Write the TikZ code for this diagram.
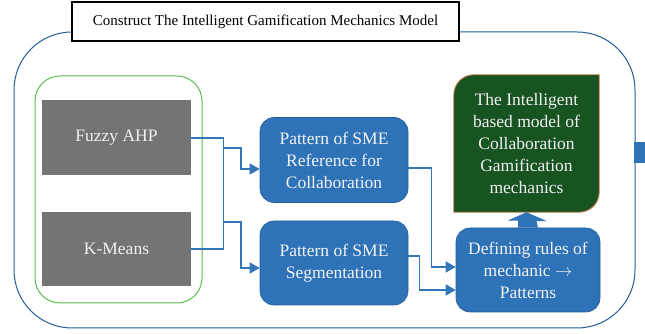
\documentclass[tikz,border=0pt]{standalone}
\usepackage{fontspec}
\setmainfont{Liberation Serif}
\usetikzlibrary{arrows.meta,calc}

\definecolor{boxblue}{RGB}{46,114,184}
\definecolor{edgeblue}{RGB}{38,92,150}
\definecolor{lineblue}{RGB}{52,118,186}
\definecolor{boxgray}{RGB}{116,116,118}
\definecolor{boxgreen}{RGB}{24,84,34}
\definecolor{edgeorange}{RGB}{205,120,70}
\definecolor{groupgreen}{RGB}{90,190,80}

\tikzset{
  txt/.style={font=\fontsize{17.5}{22}\selectfont, align=center, inner sep=0pt},
  method/.style={txt, fill=boxgray, text=white!94!black, minimum width=149pt, minimum height=75pt},
  stage/.style={txt, fill=boxblue, draw=edgeblue, line width=0.6pt, text=white!95!black,
    rounded corners=14pt, minimum width=148pt, minimum height=85pt},
  link/.style={draw=lineblue, line width=1.3pt},
  arrow/.style={link, -{Triangle[length=10pt,width=11pt]}}
}

\begin{document}
\begin{tikzpicture}[x=1pt,y=1pt]
    \useasboundingbox (0,0) rectangle (645,334);

    % outer frame
    \draw[edgeblue, line width=1pt, rounded corners=58pt] (14,302) rectangle (635,6);
    \fill[boxblue] (634,171) rectangle (645,192);

    % title
    \node[txt, font=\fontsize{15}{18}\selectfont, draw=black, fill=white, line width=1.1pt,
        minimum width=387pt, minimum height=39pt]
        (title) at (265.5,312.5) {Construct The Intelligent Gamification Mechanics Model};

    % methods
    \draw[groupgreen, line width=1pt, rounded corners=25pt] (35,258) rectangle (202,31);
    \node[method] (fuzzy) at (116.5,196) {Fuzzy AHP};
    \node[method, minimum height=74pt] (kmeans) at (116.5,85) {K-Means};

    % patterns
    \node[stage] (ref) at (334,174) {Pattern of SME\\Reference for\\Collaboration};
    \node[stage, minimum height=84pt] (seg) at (334,71) {Pattern of SME\\Segmentation};
    \node[stage, minimum width=144pt, minimum height=84pt] (rules) at (528,64)
        {Defining rules of\\mechanic $\rightarrow$\\Patterns};

    % model
    \node[minimum width=145pt, minimum height=137pt, inner sep=0pt] (model) at (526.5,190.5) {};
    \path[fill=boxgreen, draw=edgeorange, line width=0.8pt]
        ([yshift=20]model.south east) to[out=-90,in=0] ([xshift=-20]model.south east)
        -- (model.south west) -- ([yshift=-20]model.north west)
        to[out=90,in=180] ([xshift=20]model.north west) -- (model.north east) -- cycle;
    \node[txt, text=white!94!black] (modeltext) at (model)
        {The Intelligent\\based model of\\Collaboration\\Gamification\\mechanics};

    % connectors
    \coordinate (jA) at (223,186);
    \coordinate (jB) at (223,112);
    \draw[link] (fuzzy.east) -- ++(32,0) |- (kmeans.east);
    \draw[arrow] (jA) -- ++(18,0) |- ([yshift=-9]ref.west);
    \draw[arrow] (jB) -- ++(18,0) |- ([yshift=-5]seg.west);
    \draw[arrow] ([yshift=-8]ref.east) -- ++(23,0) |- ([yshift=3]rules.west);
    \draw[arrow] ([yshift=7]seg.east) -- ++(11,0) |- ([yshift=-20]rules.west);

    % block arrow
    \fill[boxblue] ([xshift=-10]rules.north) -- ++(0,7) -- ++(-10.5,0) -- (model.south)
        -- ++(20.5,-9) -- ++(-10.5,0) -- ([xshift=10]rules.north) -- cycle;
\end{tikzpicture}
\end{document}
